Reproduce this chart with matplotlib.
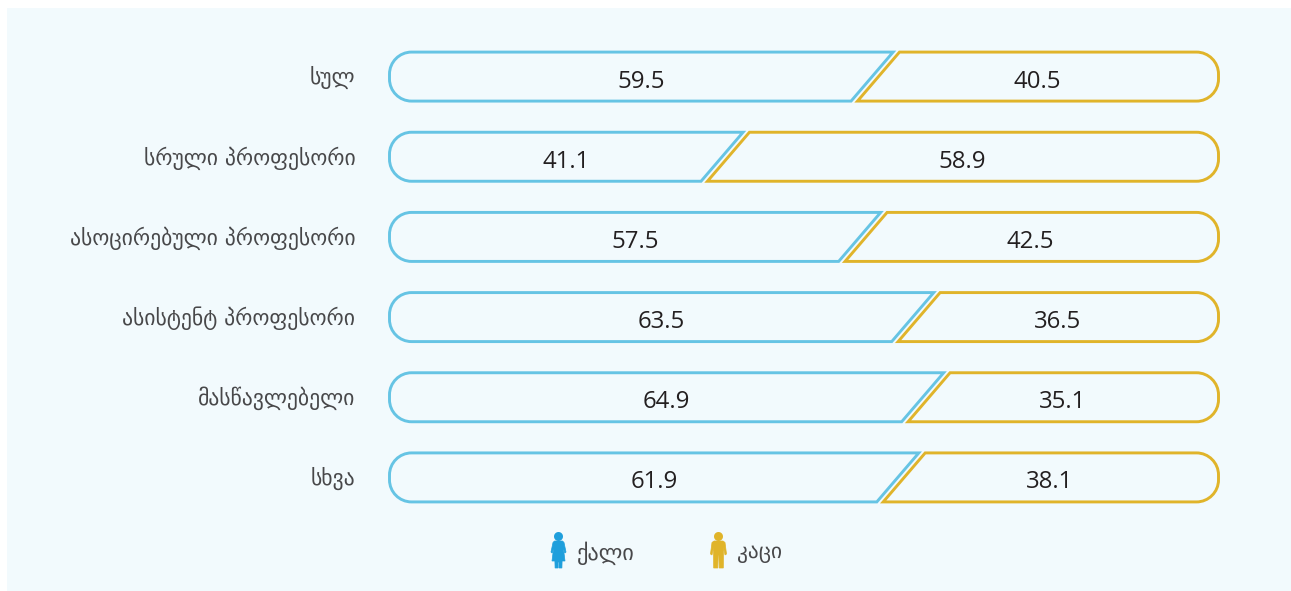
import numpy as np
import matplotlib
matplotlib.use('Agg')
from matplotlib import pyplot as plt
from matplotlib.path import Path
from matplotlib.patches import PathPatch, Rectangle
from matplotlib.transforms import ScaledTranslation

categories = ['სულ', 'სრული პროფესორი', 'ასოცირებული პროფესორი',
              'ასისტენტ პროფესორი', 'მასწავლებელი', 'სხვა']
women = [59.5, 41.1, 57.5, 63.5, 64.9, 61.9]
men = [40.5, 58.9, 42.5, 36.5, 35.1, 38.1]
# where the slanted edge really sits in the picture, it differs a bit from the labels
drawn_split = [58.6, 40.5, 57.1, 63.5, 64.7, 61.7]
legend_labels = ['ქალი', 'კაცი']

W, H = 1291, 591
BLUE = '#66c4e4'
GOLD = '#e0b42a'
BG = '#f2fafd'
TEXT = '#231f20'
LABEL = '#48484a'

fig = plt.figure(figsize=(W / 100, H / 100), dpi=100, facecolor='white')
fig.patches.append(Rectangle((7 / W, 0), (W - 7) / W, (H - 8) / H, transform=fig.transFigure,
                             facecolor=BG, edgecolor='none', zorder=-5))

# axes spans the rows exactly, so x is percent and y is row number
left, right = 389.5, 1218.5
top, bottom = 36.5, 517.5
ax = fig.add_axes([left / W, 1 - bottom / H, (right - left) / W, (bottom - top) / H])
ax.set_xlim(0, 100)
ax.set_ylim(5.5, -0.5)
ax.patch.set_alpha(0)
for s in ax.spines.values():
    s.set_visible(False)

px = 100 / (right - left)
py = 6 / (bottom - top)
hh = 24.5 * py
slant = 21 * px
gap = 3.2 * px
rad = 22
k = 0.55
CODES = [Path.MOVETO, Path.LINETO, Path.LINETO, Path.LINETO,
         Path.CURVE4, Path.CURVE4, Path.CURVE4,
         Path.LINETO, Path.CURVE4, Path.CURVE4, Path.CURVE4, Path.CLOSEPOLY]


def side_shape(edge, sign, xm, y):
    # edge is the rounded end (0 or 100), sign points from it towards the split
    rx, ry = sign * rad * px, rad * py
    e = edge
    return Path([(e + rx, y - hh), (xm + slant, y - hh), (xm - slant, y + hh), (e + rx, y + hh),
                 (e + rx * (1 - k), y + hh), (e, y + ry * k + (hh - ry)), (e, y + hh - ry),
                 (e, y - hh + ry), (e, y - ry * k - (hh - ry)), (e + rx * (1 - k), y - hh),
                 (e + rx, y - hh), (e + rx, y - hh)], CODES)


for i, (w, m, sp) in enumerate(zip(women, men, drawn_split)):
    ax.add_patch(PathPatch(side_shape(0, 1, sp - gap, i), facecolor='none', edgecolor=BLUE,
                           lw=2.1, clip_on=False))
    ax.add_patch(PathPatch(side_shape(100, -1, sp + gap, i), facecolor='none', edgecolor=GOLD,
                           lw=2.1, clip_on=False))
    ax.text(sp / 2 + 8.7 * px, i + 5 * py, f'{w:.1f}', ha='center', va='center', fontsize=17.3,
            family='Open Sans', color=TEXT)
    ax.text((sp + 100) / 2 - 10 * px, i + 5 * py, f'{m:.1f}', ha='center', va='center', fontsize=17.3,
            family='Open Sans', color=TEXT)

ax.set_xticks([])
ax.set_yticks(range(len(categories)), categories)
ax.tick_params(axis='y', length=0, pad=24.5, labelsize=15.6, labelcolor=LABEL)
for lab in ax.get_yticklabels():
    lab.set_transform(lab.get_transform() + ScaledTranslation(0, 1.5 / 100, fig.dpi_scale_trans))


def to_fig(xs, ys):
    return [(x / W, 1 - y / H) for x, y in zip(xs, ys)]


def add_person(cx, body_x, body_y, color):
    verts = to_fig([cx + a for a in body_x], body_y)
    fig.patches.append(PathPatch(Path(verts + [verts[0]]), transform=fig.transFigure,
                                 facecolor=color, edgecolor=color, lw=0.5))
    t = np.linspace(0, 2 * np.pi, 40)
    head = to_fig(cx + 4.5 * np.cos(t), 536.5 + 4.5 * np.sin(t))
    fig.patches.append(PathPatch(Path(head), transform=fig.transFigure, facecolor=color, edgecolor='none'))


woman_x = [-4, 4, 5.5, 7.5, 6.5, 5, 6.5, 3.6, 3.4, 0.5, 0.5, -0.5, -0.5, -3.4, -3.6, -6.5, -5, -6.5, -7.5, -5.5]
woman_y = [541, 541, 542.5, 552, 553, 549, 561, 561, 568, 568, 562, 562, 568, 568, 561, 561, 549, 553, 552, 542.5]
man_x = [-4.5, 4.5, 6.5, 8, 6.5, 5, 4.8, 0.7, 0.4, -0.4, -0.7, -4.8, -5, -6.5, -8, -6.5]
man_y = [541, 541, 542.5, 554, 555, 547, 568, 568, 555, 555, 568, 568, 547, 555, 554, 542.5]
add_person(558.5, woman_x, woman_y, '#1f9fdc')
add_person(718.5, man_x, man_y, GOLD)

fig.text(577 / W, 1 - 553 / H, legend_labels[0], fontsize=16, color=LABEL, ha='left', va='center')
fig.text(737 / W, 1 - 553 / H, legend_labels[1], fontsize=15.4, color=LABEL, ha='left', va='center')

fig.savefig('out.png', dpi=100)
